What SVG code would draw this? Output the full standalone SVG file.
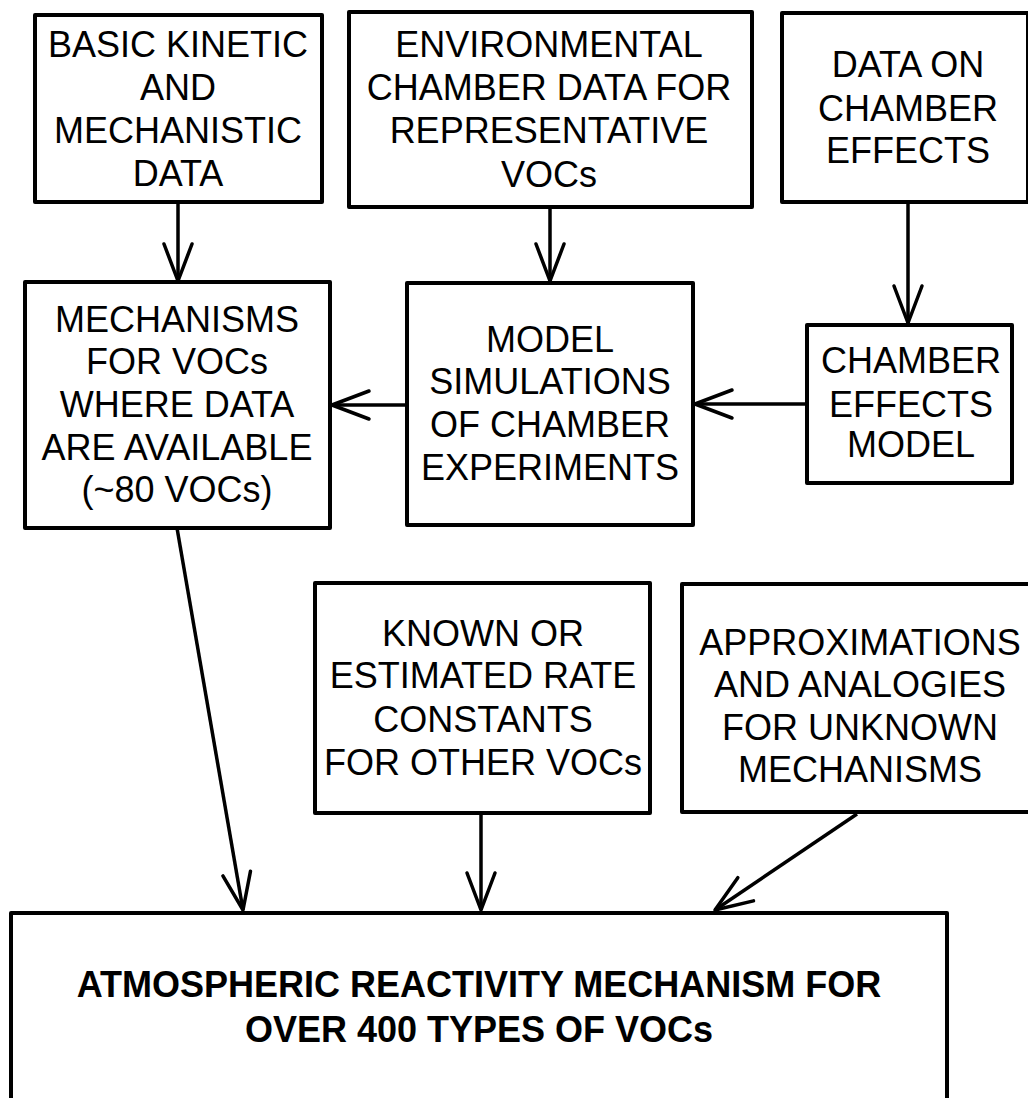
<svg xmlns="http://www.w3.org/2000/svg" width="1028" height="1098" viewBox="0 0 1028 1098">
<style>
  .box { fill: #ffffff; stroke: #000000; stroke-width: 4; stroke-linejoin: round; }
  .t { font-family: "Liberation Sans", Arial, sans-serif; font-size: 36px; fill: #000000; text-anchor: middle; }
  .tb { font-family: "Liberation Sans", Arial, sans-serif; font-size: 36px; font-weight: bold; fill: #000000; text-anchor: middle; }
  .conn { fill: none; stroke: #000000; stroke-width: 3.5; }
</style>
<defs>
  <marker id="arrow" viewBox="-42 -18 46 36" markerWidth="46" markerHeight="36" refX="0" refY="0" markerUnits="userSpaceOnUse" orient="auto" overflow="visible">
    <path d="M-37,-14 L0,0 L-37,14" fill="none" stroke="#000000" stroke-width="3.5" stroke-linecap="round" stroke-linejoin="round"/>
  </marker>
</defs>
<rect width="1028" height="1098" fill="#ffffff"/>

<g id="connectors">
  <line class="conn" x1="178" y1="202" x2="178" y2="281" marker-end="url(#arrow)"/>
  <line class="conn" x1="550" y1="207" x2="550" y2="281" marker-end="url(#arrow)"/>
  <line class="conn" x1="908" y1="202" x2="908" y2="323" marker-end="url(#arrow)"/>
  <line class="conn" x1="807" y1="404" x2="695" y2="404" marker-end="url(#arrow)"/>
  <line class="conn" x1="407" y1="405" x2="332" y2="405" marker-end="url(#arrow)"/>
  <line class="conn" x1="177" y1="528" x2="243" y2="910" marker-end="url(#arrow)"/>
  <line class="conn" x1="481" y1="813" x2="481" y2="910" marker-end="url(#arrow)"/>
  <line class="conn" x1="857" y1="814" x2="715" y2="910" marker-end="url(#arrow)"/>
</g>

<g id="n-basic">
  <rect class="box" x="35" y="15" width="287" height="187"/>
  <text class="t" x="178" y="57">BASIC KINETIC</text>
  <text class="t" x="178" y="100">AND</text>
  <text class="t" x="178" y="143">MECHANISTIC</text>
  <text class="t" x="178" y="186">DATA</text>
</g>

<g id="n-envchamber">
  <rect class="box" x="349" y="12" width="403" height="195"/>
  <text class="t" x="549" y="57">ENVIRONMENTAL</text>
  <text class="t" x="549" y="100">CHAMBER DATA FOR</text>
  <text class="t" x="549" y="143">REPRESENTATIVE</text>
  <text class="t" x="549" y="187">VOCs</text>
</g>

<g id="n-chamberdata">
  <rect class="box" x="782" y="13" width="246" height="189"/>
  <text class="t" x="908" y="77">DATA ON</text>
  <text class="t" x="908" y="121">CHAMBER</text>
  <text class="t" x="908" y="163">EFFECTS</text>
</g>

<g id="n-mechanisms">
  <rect class="box" x="25" y="282" width="305" height="246"/>
  <text class="t" x="177" y="332">MECHANISMS</text>
  <text class="t" x="177" y="374">FOR VOCs</text>
  <text class="t" x="177" y="417">WHERE DATA</text>
  <text class="t" x="177" y="460">ARE AVAILABLE</text>
  <text class="t" x="177" y="502">(~80 VOCs)</text>
</g>

<g id="n-modelsim">
  <rect class="box" x="407" y="283" width="286" height="242"/>
  <text class="t" x="550" y="352">MODEL</text>
  <text class="t" x="550" y="394">SIMULATIONS</text>
  <text class="t" x="550" y="437">OF CHAMBER</text>
  <text class="t" x="550" y="480">EXPERIMENTS</text>
</g>

<g id="n-chambermodel">
  <rect class="box" x="807" y="325" width="205" height="158"/>
  <text class="t" x="911" y="373">CHAMBER</text>
  <text class="t" x="911" y="417">EFFECTS</text>
  <text class="t" x="911" y="457">MODEL</text>
</g>

<g id="n-known">
  <rect class="box" x="315" y="583" width="335" height="230"/>
  <text class="t" x="483" y="646">KNOWN OR</text>
  <text class="t" x="483" y="688">ESTIMATED RATE</text>
  <text class="t" x="483" y="732">CONSTANTS</text>
  <text class="t" x="483" y="775">FOR OTHER VOCs</text>
</g>

<g id="n-approx">
  <rect class="box" x="682" y="584" width="360" height="228"/>
  <text class="t" x="860" y="655">APPROXIMATIONS</text>
  <text class="t" x="860" y="697">AND ANALOGIES</text>
  <text class="t" x="860" y="740">FOR UNKNOWN</text>
  <text class="t" x="860" y="782">MECHANISMS</text>
</g>

<g id="n-atmospheric">
  <rect class="box" x="11" y="913" width="936" height="200"/>
  <text class="tb" x="479" y="997">ATMOSPHERIC REACTIVITY MECHANISM FOR</text>
  <text class="tb" x="479" y="1042">OVER 400 TYPES OF VOCs</text>
</g>
</svg>
